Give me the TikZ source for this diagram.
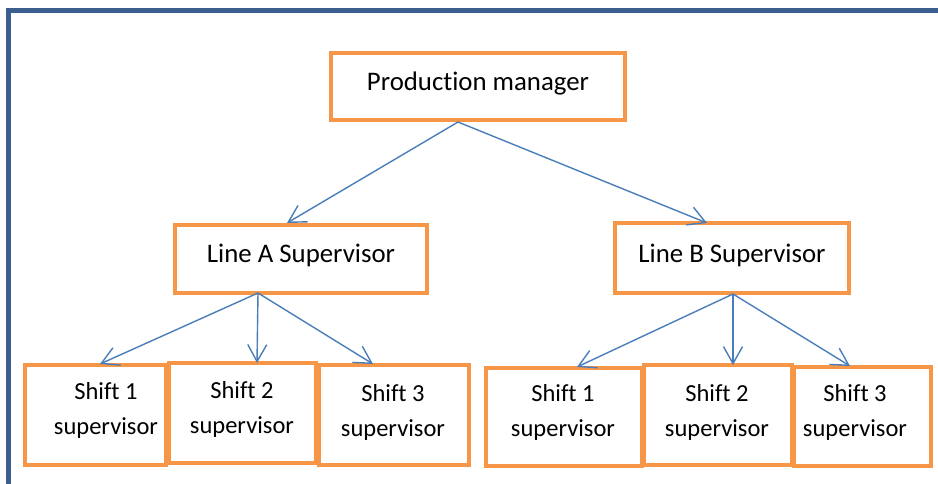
\documentclass[tikz,border=0pt]{standalone}
\usepackage{fontspec}
\setmainfont[Ligatures={NoCommon}]{Carlito}
\usetikzlibrary{arrows.meta,calc}
\definecolor{boxorange}{HTML}{F79646}
\definecolor{linkblue}{HTML}{4A7EBB}
\definecolor{framedark}{HTML}{3B5E8C}
\begin{document}
\begin{tikzpicture}[x=1pt,y=-1pt,
  box/.style={draw=boxorange,line width=4pt,fill=white,rectangle,inner sep=0pt},
  bigtext/.style={font=\fontsize{26.8}{32}\selectfont,inner sep=0pt},
  smalltext/.style={font=\fontsize{24.5}{35}\selectfont,align=center,inner sep=0pt},
  link/.style={draw=linkblue,line width=1.4pt,line join=round,
    -{Straight Barb[length=17pt,width=19pt,line width=1.4pt]}}]
\useasboundingbox (0,0) rectangle (938,483);
\fill[white] (0,0) rectangle (938,483);

% page frame
\draw[framedark,line width=5pt] (8.5,490) -- (8.5,10.8) -- (945,10.8);

% boxes
\node[box,minimum width=294pt,minimum height=67pt] (pm) at (478,86.5) {};
\node[box,minimum width=252pt,minimum height=68pt] (la) at (301,259) {};
\node[box,minimum width=234pt,minimum height=70pt] (lb) at (732,258) {};

\node[box,minimum width=141pt,minimum height=100pt] (ls1) at (95.5,415) {};
\node[box,minimum width=147pt,minimum height=100pt] (ls2) at (242.5,413) {};
\node[box,minimum width=150pt,minimum height=100pt] (ls3) at (394,415) {};

\node[box,minimum width=156pt,minimum height=98pt] (rs1) at (564,417) {};
\node[box,minimum width=137pt,minimum height=99pt] (rs3) at (862.5,416.5) {};
\node[box,minimum width=148pt,minimum height=100pt] (rs2) at (718,415) {};

% labels
\node[bigtext] (pmt) at (478,83) {Production manager};
\node[bigtext] (lat) at (301,255) {Line A Supervisor};
\node[bigtext] (lbt) at (732,255) {Line B Supervisor};

\node[smalltext] (ls1t) at (106,410.5) {Shift 1\\supervisor};
\node[smalltext] (ls2t) at (242,409.5) {Shift 2\\supervisor};
\node[smalltext] (ls3t) at (393,412) {Shift 3\\supervisor};
\node[smalltext] (rs1t) at (563,412) {Shift 1\\supervisor};
\node[smalltext] (rs2t) at (717,412) {Shift 2\\supervisor};
\node[smalltext] (rs3t) at (855,412) {Shift 3\\supervisor};

% connectors
\coordinate (pmfoot) at ($(pm.south)+(-20,0)$);
\coordinate (lafoot) at ($(la.south)+(-43,-2)$);
\coordinate (lbfoot) at ($(lb.south)+(1,-1)$);

\draw[link] (pmfoot) -- ($(la.north)+(-14,0)$);
\draw[link] (pmfoot) -- ($(lb.north)+(-25,2)$);

\draw[link] (lafoot) -- ($(ls1.north)+(4.5,1)$);
\draw[link] (lafoot) -- ($(ls2.north)+(14.5,2)$);
\draw[link] (lafoot) -- ($(ls3.north)+(-21,1)$);

\draw[link] (lbfoot) -- ($(rs1.north)+(13,1)$);
\draw[link] (lbfoot) -- ($(rs2.north)+(15,2)$);
\draw[link] (lbfoot) -- ($(rs3.north)+(-12.5,1)$);
\end{tikzpicture}
\end{document}
